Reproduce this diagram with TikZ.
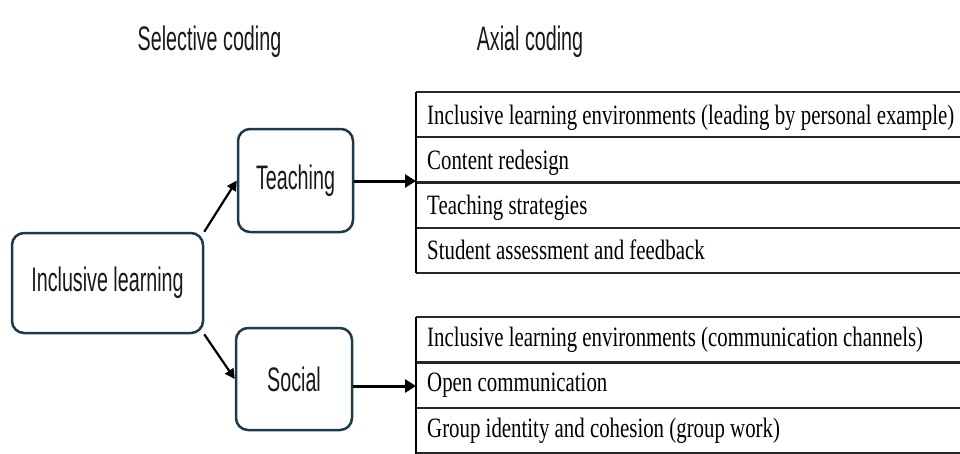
\documentclass[tikz,border=0pt]{standalone}
\usepackage{fontspec}
\newfontfamily\plexsans[FakeStretch=0.58]{Liberation Sans}
\newfontfamily\tabserif[FakeStretch=0.745]{Liberation Serif}
\usetikzlibrary{arrows.meta}
\definecolor{boxnavy}{HTML}{1B3A4B}

\begin{document}
\begin{tikzpicture}[x=1pt, y=-1pt,
    codebox/.style={draw=boxnavy, line width=2.5pt, rounded corners=12pt, text=black!90,
      font=\plexsans\fontsize{34}{40}\selectfont},
    heading/.style={anchor=base, text=black!90, font=\plexsans\fontsize{34}{40}\selectfont},
    rowtext/.style={anchor=base west, inner sep=0pt, font=\tabserif\fontsize{28}{32}\selectfont},
    rowrule/.style={line width=2.4pt, black!85},
    link/.style={-{Triangle[length=10pt, width=10pt]}, line width=2.2pt},
    feed/.style={-{Triangle[length=11pt, width=13pt]}, line width=3pt}]
  \clip (0,0) rectangle (960,453);

  % Column headings
  \node[heading] (selective) at (209.5,50) {Selective coding};
  \node[heading] (axial) at (530,50) {Axial coding};

  % Selective coding boxes
  \node[codebox, minimum width=191pt, minimum height=100pt] (incl) at (107.5,283) {Inclusive learning};
  \node[codebox, minimum width=115pt, minimum height=103pt] (teach) at (295.5,180.5) {Teaching};
  \node[codebox, minimum width=116pt, minimum height=102pt] (social) at (294,379) {Social};

  % Axial codes under Teaching
  \foreach \i in {0,...,4} {
    \draw[rowrule] (416,{92+\i*45.25}) -- (975,{92+\i*45.25});
  }
  \draw[line width=1.5pt] (416,92) -- (416,273);
  \foreach \txt [count=\i] in {Inclusive learning environments (leading by personal example),
      Content redesign, Teaching strategies, Student assessment and feedback} {
    \node[rowtext] (teachrow\i) at (427,{92+(\i-1)*45.25+32}) {\txt};
  }
  \coordinate (teachtab) at (416,181);

  % Axial codes under Social
  \foreach \i in {0,...,3} {
    \draw[rowrule] (416,{317+\i*45.5}) -- (975,{317+\i*45.5});
  }
  \draw[line width=1.5pt] (416,317) -- (416,460);
  \foreach \txt [count=\i] in {Inclusive learning environments (communication channels),
      Open communication, Group identity and cohesion (group work)} {
    \node[rowtext] (socialrow\i) at (427,{317+(\i-1)*45.5+29}) {\txt};
  }
  \coordinate (socialtab) at (416,386);

  % Connectors
  \draw[link] (incl.north east) -- (teach.west);
  \draw[link] (incl.south east) -- (social.west);
  \draw[feed] (teach.east |- teachtab) -- (teachtab);
  \draw[feed] (social.east |- socialtab) -- (socialtab);
\end{tikzpicture}
\end{document}
